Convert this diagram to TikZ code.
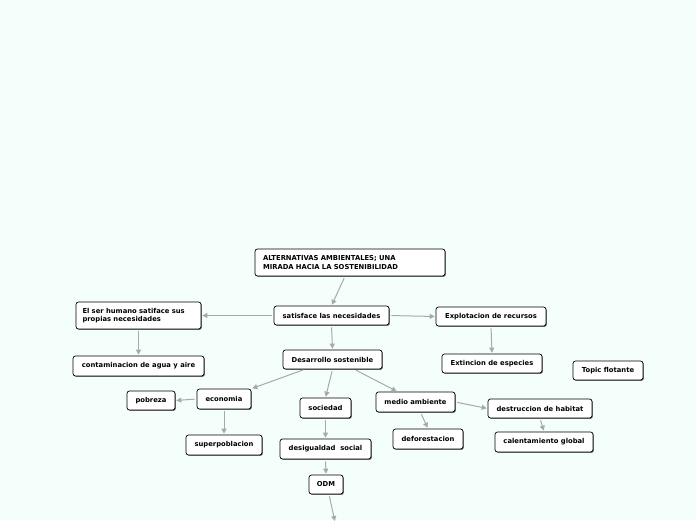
\documentclass[tikz,border=0pt]{standalone}
\usepackage{fontspec}
\setmainfont{DejaVu Sans}
\usetikzlibrary{shadows,arrows.meta}
\definecolor{bgc}{HTML}{F4FFFB}
\definecolor{linec}{HTML}{A8A8A8}
\tikzset{
  topic/.style={draw=black, line width=0.7pt, fill=white, rounded corners=2.5pt,
    drop shadow={shadow xshift=0.9pt, shadow yshift=-0.9pt, fill=black!55, opacity=1},
    inner sep=0pt, font=\bfseries\fontsize{6.8}{8.2}\selectfont, align=center},
  conn/.style={draw=linec, line width=1pt, -{Triangle[length=5pt,width=5pt]}, shorten <=2pt, shorten >=1pt}
}
\begin{document}
\begin{tikzpicture}[x=1pt,y=-1pt]
\fill[bgc] (0,0) rectangle (696,520);
\useasboundingbox (0,0) rectangle (696,520);
\node[topic, minimum width=190pt, minimum height=27pt, align=left, text width=174pt] (alt) at (350,262.5) {ALTERNATIVAS AMBIENTALES; UNA\\MIRADA HACIA LA SOSTENIBILIDAD};
\node[topic, minimum width=115pt, minimum height=19pt] (sat) at (331.5,315.5) {satisface las necesidades};
\node[topic, minimum width=125pt, minimum height=27pt, align=left, text width=112pt] (ser) at (138.5,315.5) {El ser humano satiface sus\\propias necesidades};
\node[topic, minimum width=131pt, minimum height=20pt] (con) at (138.5,366) {contaminacion de agua y aire};
\node[topic, minimum width=110pt, minimum height=19pt] (exp) at (491,316.5) {Explotacion de recursos};
\node[topic, minimum width=100pt, minimum height=19pt] (ext) at (492,363.5) {Extincion de especies};
\node[topic, minimum width=70pt, minimum height=19pt] (flo) at (608,370.5) {Topic flotante};
\node[topic, minimum width=99pt, minimum height=19pt] (des) at (332.5,359.5) {Desarrollo sostenible};
\node[topic, minimum width=54pt, minimum height=20pt] (eco) at (224,399) {economia};
\node[topic, minimum width=48pt, minimum height=19pt] (pob) at (151,400.5) {pobreza};
\node[topic, minimum width=76pt, minimum height=20pt] (sup) at (224,445) {superpoblacion};
\node[topic, minimum width=51pt, minimum height=20pt] (soc) at (325.5,408) {sociedad};
\node[topic, minimum width=91pt, minimum height=20pt] (dsg) at (325.5,449) {desigualdad\ \ social};
\node[topic, minimum width=34pt, minimum height=19pt] (odm) at (326,484.5) {ODM};
\node[topic, minimum width=79pt, minimum height=20pt] (med) at (415.5,402) {medio ambiente};
\node[topic, minimum width=70pt, minimum height=20pt] (def) at (428,439) {deforestacion};
\node[topic, minimum width=104pt, minimum height=19pt] (dst) at (540,408.5) {destruccion de habitat};
\node[topic, minimum width=98pt, minimum height=20pt] (cal) at (544,442) {calentamiento global};
\coordinate (below) at (335,522);

\draw[conn] (alt.south) ++(-5,0) coordinate (a1) (a1) -- (sat.north);
\draw[conn] (sat.west) -- (ser.east);
\draw[conn] (sat.east) -- (exp.west);
\draw[conn] (sat.south) -- (des.north);
\draw[conn] (ser.south) -- (con.north);
\draw[conn] (exp.south) -- (ext.north);
\draw[conn] (des.south west) ++(22,0) coordinate (d1) (d1) -- (eco.north east);
\draw[conn] (des.south) -- (soc.north);
\draw[conn] (des.south east) ++(-28,0) coordinate (d2) (d2) -- ([xshift=-18pt]med.north);
\draw[conn] (eco.west) -- (pob.east);
\draw[conn] (eco.south) -- (sup.north);
\draw[conn] (soc.south) -- (dsg.north);
\draw[conn] (dsg.south) -- (odm.north);
\draw[conn] (odm.south) ++(3,0) coordinate (o1) (o1) -- (below);
\draw[conn] (med.south) ++(5,0) coordinate (m1) (m1) -- (def.north);
\draw[conn] (med.east) -- (dst.west);
\draw[conn] (dst.south) -- (cal.north);
\end{tikzpicture}
\end{document}
